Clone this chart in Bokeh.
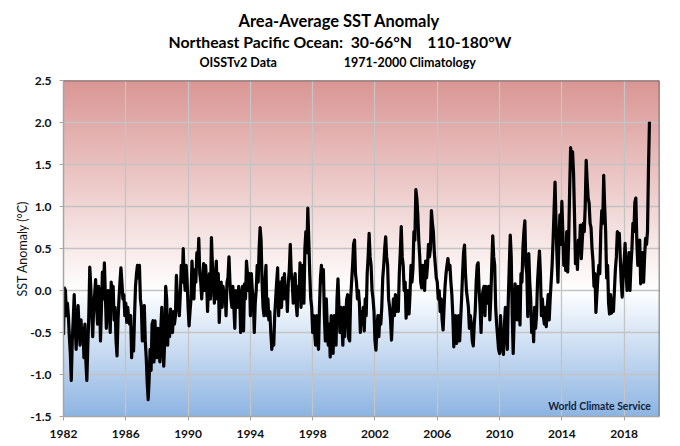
import numpy as np
from bokeh.plotting import figure
from bokeh.models import FixedTicker, NumeralTickFormatter, Label, Span, Title
from bokeh.embed import file_html
from bokeh.resources import INLINE

title_lines = ["Area-Average SST Anomaly", "Northeast Pacific Ocean:\u00a0\u00a030-66°N\u00a0\u00a0\u00a0\u00a0110-180°W"]
sub_left = "OISSTv2 Data"
sub_right = "1971-2000 Climatology"
credit = "World Climate Service"
y_label = "SST Anomaly (°C)"
x_ticks = [1982, 1986, 1990, 1994, 1998, 2002, 2006, 2010, 2014, 2018]
y_ticks = [-1.5, -1.0, -0.5, 0.0, 0.5, 1.0, 1.5, 2.0, 2.5]

# anomaly readings per year, evenly spaced through the year
a1982 = [-0.53, 0.03, 0.0, -0.3, -0.15, -0.3, -0.55, -0.75, -1.07, -0.6, -0.35, -0.05, -0.4, -0.7, -0.35, -0.18]
a1983 = [-0.45, -0.65, -0.35, -0.6, -0.45, -0.8, -0.4, -0.85, -1.07, -0.65, -0.3, 0.28, 0.05, -0.25, -0.55, -0.2]
a1984 = [-0.05, 0.13, -0.2, -0.4, 0.05, -0.05, -0.6, -0.2, 0.22, -0.1, 0.33, -0.05, -0.45, -0.15, 0.0, -0.2]
a1985 = [-0.5, 0.1, -0.1, 0.05, -0.35, -0.2, -0.6, -0.78, -0.35, -0.1, 0.1, 0.27, 0.1, -0.1, -0.05, -0.3]
a1986 = [-0.15, -0.38, -0.2, -0.35, -0.4, -0.3, -0.8, -0.45, -0.72, -0.3, 0.05, 0.2, 0.3, 0.15, 0.3, -0.1]
a1987 = [-0.2, -0.6, -0.25, -0.18, -0.6, -0.8, -1.1, -1.3, -1.05, -0.7, -0.95, -0.4, -0.36, -0.85, -0.36, -0.7]
a1988 = [-0.8, -0.45, -0.7, -0.85, -0.45, -0.2, -0.7, -0.9, -0.6, 0.05, -0.1, -0.65, -0.3, -0.55, -0.22, -0.45]
a1989 = [-0.5, -0.25, -0.4, -0.3, 0.18, -0.1, -0.2, -0.3, -0.05, 0.3, 0.1, 0.5, 0.15, 0.0, 0.3, 0.1]
a1990 = [-0.2, -0.42, -0.25, -0.1, 0.35, 0.1, -0.1, 0.25, 0.1, 0.45, 0.3, 0.62, 0.2, 0.1, -0.1, 0.15]
a1991 = [0.32, 0.0, 0.3, 0.1, -0.25, 0.1, 0.2, -0.1, 0.63, 0.3, 0.05, -0.15, 0.15, 0.35, -0.1, 0.2]
a1992 = [-0.38, -0.1, 0.1, -0.2, 0.05, -0.1, 0.0, -0.3, 0.1, 0.15, 0.4, 0.1, -0.1, -0.2, 0.05, -0.2]
a1993 = [-0.45, 0.0, -0.15, -0.2, 0.05, -0.05, -0.5, -0.1, 0.05, -0.48, 0.08, -0.1, 0.35, 0.2, 0.0, 0.2]
a1994 = [-0.3, 0.2, 0.0, -0.1, -0.5, -0.15, 0.0, 0.3, 0.1, 0.5, 0.75, 0.6, 0.1, -0.2, -0.3, 0.1]
a1995 = [0.3, -0.3, -0.1, -0.35, -0.25, -0.5, -0.7, -0.55, -0.65, -0.3, -0.1, 0.1, 0.27, -0.3, 0.0, 0.1]
a1996 = [-0.2, 0.15, -0.1, 0.2, -0.1, 0.05, -0.25, 0.1, 0.25, 0.55, 0.2, 0.1, -0.15, 0.05, 0.2, -0.15]
a1997 = [-0.3, 0.05, -0.1, 0.33, -0.2, 0.1, 0.3, -0.15, 0.5, 0.7, 0.45, 0.98, 0.6, 0.2, -0.1, -0.2]
a1998 = [-0.5, -0.3, -0.5, -0.65, -0.3, -0.6, -0.7, -0.2, 0.15, 0.3, 0.1, 0.25, -0.3, -0.6, -0.1, -0.45]
a1999 = [-0.65, -0.4, -0.79, -0.3, -0.6, -0.75, -0.3, -0.55, -0.65, -0.1, 0.14, -0.2, -0.5, -0.2, -0.4, -0.65]
a2000 = [-0.2, -0.55, -0.3, -0.1, -0.05, -0.57, -0.6, -0.1, 0.1, 0.3, 0.55, 0.6, 0.2, 0.1, -0.1, 0.0]
a2001 = [-0.15, -0.5, -0.25, -0.4, -0.2, -0.48, -0.1, -0.3, 0.2, 0.4, 0.68, 0.4, 0.3, 0.0, -0.1, -0.25]
a2002 = [-0.6, -0.71, -0.45, -0.3, -0.55, -0.3, -0.4, -0.2, 0.15, 0.3, 0.5, 0.64, 0.4, 0.3, -0.1, -0.2]
a2003 = [-0.35, -0.59, -0.3, -0.1, -0.3, -0.05, -0.25, -0.1, -0.25, 0.2, 0.45, 0.76, 0.4, 0.3, 0.0, 0.1]
a2004 = [-0.33, -0.1, 0.0, -0.28, -0.05, 0.3, 0.1, 0.25, 0.7, 0.6, 1.2, 1.1, 0.9, 0.6, 0.4, 0.1]
a2005 = [0.03, 0.3, 0.1, 0.0, 0.35, 0.15, 0.3, 0.55, 0.4, 0.5, 0.95, 0.8, 0.7, 0.45, 0.3, 0.15]
a2006 = [0.1, -0.1, 0.0, -0.25, -0.1, -0.35, -0.47, -0.2, 0.05, 0.2, 0.3, 0.38, 0.25, 0.3, 0.1, -0.05]
a2007 = [-0.3, -0.67, -0.35, -0.3, -0.63, -0.35, -0.3, -0.6, -0.35, -0.1, 0.2, 0.45, 0.54, 0.2, 0.0, -0.1]
a2008 = [-0.2, -0.45, -0.3, -0.4, -0.6, -0.66, -0.4, -0.25, 0.1, 0.3, 0.33, 0.0, -0.2, -0.5, -0.1, 0.0]
a2009 = [0.05, -0.3, 0.05, -0.15, -0.1, 0.05, -0.35, -0.1, 0.3, 0.65, 0.4, 0.3, -0.2, -0.4, -0.55, -0.7]
a2010 = [-0.75, -0.3, -0.6, -0.7, -0.76, -0.4, -0.2, -0.5, -0.7, -0.1, 0.3, 0.66, 0.4, -0.3, -0.75, -0.35]
a2011 = [0.08, -0.2, -0.35, 0.05, -0.1, -0.41, 0.2, 0.1, 0.5, 0.7, 0.83, 0.3, 0.2, -0.31, 0.44, 0.1]
a2012 = [-0.1, -0.5, -0.3, -0.61, -0.2, -0.45, -0.3, 0.1, 0.3, 0.47, 0.2, -0.3, -0.1, -0.3, -0.4, -0.2]
a2013 = [-0.43, -0.2, -0.05, -0.35, -0.1, 0.1, 0.3, 0.6, 0.95, 1.29, 0.8, 0.4, 0.1, 0.6, 0.9, 0.55]
a2014 = [1.06, 0.7, 0.3, 0.5, 0.24, 0.7, 0.22, 0.6, 1.2, 1.7, 1.55, 1.65, 1.4, 0.9, 0.32, 0.55]
a2015 = [0.25, 0.6, 0.45, 0.78, 0.38, 0.6, 0.8, 0.7, 1.0, 1.55, 1.3, 1.1, 1.04, 0.8, 0.75, 0.5]
a2016 = [0.35, 0.05, 0.2, -0.26, -0.05, 0.15, 0.3, 0.2, 0.7, 0.95, 0.8, 1.37, 1.0, 0.7, 0.15, 0.3]
a2017 = [-0.15, -0.28, -0.05, -0.27, -0.1, -0.25, 0.0, 0.25, 0.4, 0.7, 0.55, 0.68, 0.4, 0.1, -0.08, 0.2]
a2018 = [0.35, 0.56, 0.2, 0.0, 0.3, 0.45, 0.0, 0.3, 0.5, 0.8, 0.7, 1.05, 1.1, 0.6, 0.3, 0.5]
a2019 = [0.6, 0.08, 0.3, 0.45, 0.1, 0.4, 0.62, 0.55, 0.7, 1.45, 2.01]

by_year = [a1982, a1983, a1984, a1985, a1986, a1987, a1988, a1989, a1990, a1991,
           a1992, a1993, a1994, a1995, a1996, a1997, a1998, a1999, a2000, a2001,
           a2002, a2003, a2004, a2005, a2006, a2007, a2008, a2009, a2010, a2011,
           a2012, a2013, a2014, a2015, a2016, a2017, a2018, a2019]
xs, ys = [], []
for k, vals in enumerate(by_year):
    for i, v in enumerate(vals):
        xs.append(1982 + k + i / 16)
        ys.append(v)

XMAX = 2020.27
p = figure(width=680, height=446, output_backend="svg", toolbar_location=None,
           x_range=(1982, XMAX), y_range=(-1.5, 2.5),
           frame_width=596, frame_height=336, title=None,
           min_border_left=63, min_border_right=21, min_border_top=80, min_border_bottom=30)

# vertical gradient background, one column image beneath the grid
top_rgb, mid_rgb, bot_rgb = (217, 150, 148), (255, 255, 255), (141, 180, 226)
N = 336
img = np.zeros((N, 1), dtype=np.uint32)
view = img.view(dtype=np.uint8).reshape((N, 1, 4))
for i in range(N):
    m = -1.5 + 4 * (i + 0.5) / N
    end, f = (top_rgb, m / 2.5) if m >= 0 else (bot_rgb, -m / 1.5)
    for j in range(3):
        view[i, 0, j] = round(mid_rgb[j] + (end[j] - mid_rgb[j]) * f)
    view[i, 0, 3] = 255
p.image_rgba(image=[img], x=1982, y=-1.5, dw=XMAX - 1982, dh=4, level="image")

p.line(xs, ys, line_color="black", line_width=3.2, line_join="round")

p.xgrid.ticker = FixedTicker(ticks=x_ticks)
p.ygrid.ticker = FixedTicker(ticks=y_ticks)
p.xgrid.grid_line_color = "#c4c4c4"
p.ygrid.grid_line_color = "#c4c4c4"
p.xgrid.grid_line_width = 1.3
p.ygrid.grid_line_width = 1.3

p.xaxis.ticker = FixedTicker(ticks=x_ticks)
p.yaxis.ticker = FixedTicker(ticks=y_ticks)
p.yaxis.formatter = NumeralTickFormatter(format="0.0")
for ax in (p.xaxis[0], p.yaxis[0]):
    ax.axis_line_color = "#a6a6a6"
    ax.axis_line_width = 1.5
    ax.major_tick_line_color = "#a6a6a6"
    ax.major_tick_out = 4
    ax.major_tick_in = 0
    ax.minor_tick_line_color = None
    ax.major_label_text_font = "Lato"
    ax.major_label_text_font_style = "bold"
    ax.major_label_text_font_size = "12px"
    ax.major_label_text_color = "#111111"
p.yaxis.major_label_standoff = 8
p.xaxis.major_label_standoff = 9
p.yaxis.axis_label = y_label
p.yaxis.axis_label_text_font = "Lato"
p.yaxis.axis_label_text_font_style = "normal"
p.yaxis.axis_label_text_font_size = "12.5px"
p.yaxis.axis_label_text_color = "#111111"
p.yaxis.axis_label_standoff = -3
p.outline_line_color = None
p.add_layout(Span(location=2.5, dimension="width", line_color="#404040", line_width=1.5))
p.add_layout(Span(location=XMAX, dimension="height", line_color="#404040", line_width=1.5))

# inner credit
p.add_layout(Label(x=536, y=11, x_units="screen", y_units="screen", text=credit,
                   text_font="Lato", text_font_size="10.4px", text_font_style="bold",
                   text_align="center", text_baseline="middle", text_color="#14233a"))

# heading rows stacked above the frame
gap = "\u00a0" * 22
rows = [(sub_left + gap + sub_right, "12.5px", 136, 20.5),
        (title_lines[1], "15.8px", 105, -17),
        (title_lines[0], "16.5px", 175, 15)]
for text, size, off, stand in rows:
    p.add_layout(Title(text=text, text_font="Lato", text_font_size=size, text_font_style="bold",
                       text_color="black", align="left", offset=off, standoff=stand), "above")

open("out.html", "w").write(file_html(p, INLINE))
